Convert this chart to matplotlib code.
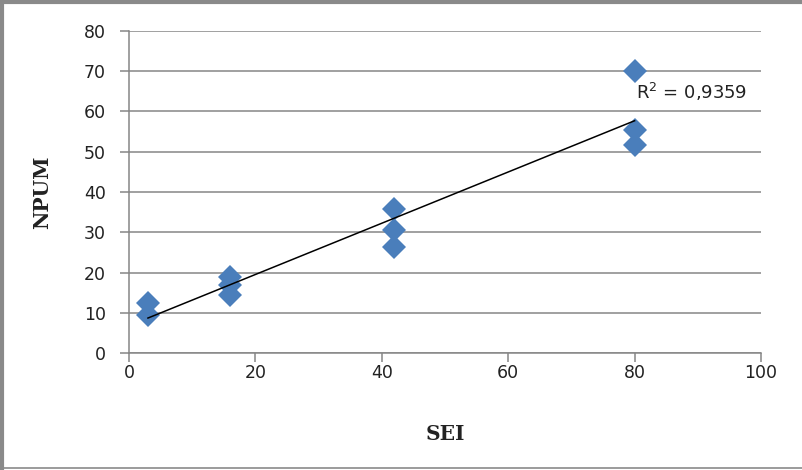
import matplotlib
import matplotlib.pyplot as plt
import numpy as np
from matplotlib.lines import Line2D

matplotlib.use('Agg')

# data
sei = [3, 3, 16, 16, 16, 42, 42, 42, 80, 80, 80]
npum = [12.4, 9.4, 18.9, 16.9, 14.4, 35.8, 30.6, 26.3, 70.1, 55.4, 51.7]
r2_label = 'R$^2$ = 0,9359'

x_ticks = [0, 20, 40, 60, 80, 100]
y_ticks = [0, 10, 20, 30, 40, 50, 60, 70, 80]

grey = '#868686'
blue = '#4a7ebb'

fig = plt.figure(figsize=(8.02, 4.70), dpi=100)
ax = fig.add_axes([129 / 802, 1 - 353 / 470, 632 / 802, 322 / 470])

ax.plot(sei, npum, linestyle='none', marker='D', markersize=12.5,
        color=blue, markeredgewidth=0, zorder=3)

# linear trendline
slope, icpt = np.polyfit(sei, npum, 1)
xs = np.array([min(sei), max(sei)])
ax.plot(xs, slope * xs + icpt, color='black', linewidth=1.1, zorder=4)

ax.text(80.3, 64.8, r2_label, fontsize=13, color='#222222', va='center', ha='left')

ax.set_xlim(0, 100)
ax.set_ylim(0, 80)
ax.set_xticks(x_ticks)
ax.set_yticks(y_ticks)
ax.yaxis.grid(True, color=grey, linewidth=1.1)
ax.set_axisbelow(True)
for s in ['top', 'right']:
    ax.spines[s].set_visible(False)
for s in ['left', 'bottom']:
    ax.spines[s].set_color(grey)
    ax.spines[s].set_linewidth(1.1)
ax.tick_params(direction='out', length=6.5, width=1.1, color=grey,
               labelsize=12.5, labelcolor='#222222')
ax.tick_params(axis='x', pad=1.5)
ax.tick_params(axis='y', pad=10)

ax.set_xlabel('SEI', fontsize=14.5, fontweight='bold', family='DejaVu Serif',
              labelpad=30, color='#222222')
ax.set_ylabel('NPUM', fontsize=14.5, fontweight='bold', family='DejaVu Serif',
              labelpad=23, color='#222222')

# outer frame of the picture
fig.add_artist(Line2D([0, 1], [1 - 1.5 / 470] * 2, color='#8a8a8a', linewidth=3))
fig.add_artist(Line2D([2 / 802] * 2, [0, 1], color='#8a8a8a', linewidth=3))
fig.add_artist(Line2D([0, 1], [1 - 468 / 470] * 2, color='#8a8a8a', linewidth=1.2))

fig.savefig('out.png', dpi=100)
